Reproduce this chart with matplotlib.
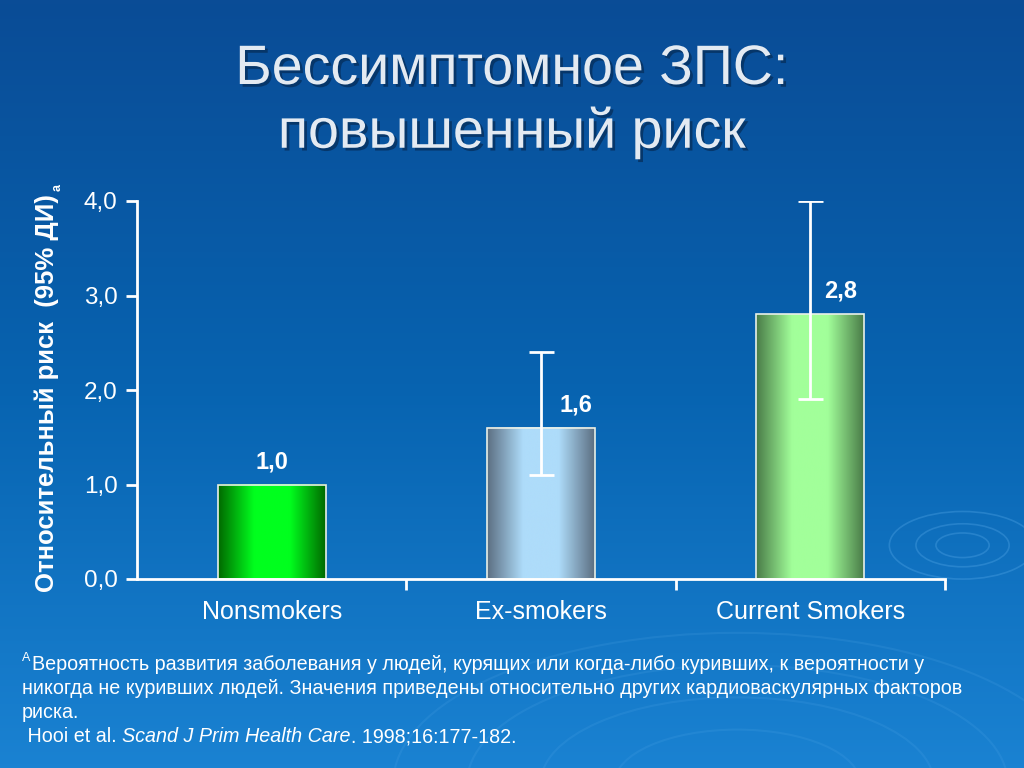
import numpy as np
import matplotlib
matplotlib.use("Agg")
import matplotlib.pyplot as plt
from matplotlib.colors import LinearSegmentedColormap
from matplotlib.patches import Rectangle, Ellipse
import matplotlib.patheffects as pe

categories = ["Nonsmokers", "Ex-smokers", "Current Smokers"]
values = [1.0, 1.6, 2.8]
ci_low = [None, 1.1, 1.9]
ci_high = [None, 2.4, 4.0]
value_labels = ["1,0", "1,6", "2,8"]
yticks = [0.0, 1.0, 2.0, 3.0, 4.0]
ytick_labels = ["0,0", "1,0", "2,0", "3,0", "4,0"]
title_lines = ["Бессимптомное ЗПС:", "повышенный риск"]
ylabel = "Относительный риск  (95% ДИ)"
footnote = ["Вероятность развития заболевания у людей, курящих или когда-либо куривших, к вероятности у",
            "никогда не куривших людей. Значения приведены относительно других кардиоваскулярных факторов",
            "риска."]
citation = [(" Hooi et al. ", "normal"), ("Scand J Prim Health Care", "italic"),
            (". 1998;16:177-182.", "normal")]

bar_edge_colors = [("#006a00", "#00ff1e"), ("#5c6f82", "#aedcfa"), ("#4a7c48", "#a2ff9a")]
label_dx = [0, 35, 30]

FONT = ["Liberation Sans", "DejaVu Sans"]
plt.rcParams["font.family"] = FONT

fig = plt.figure(figsize=(10.24, 7.68), dpi=100)

# background gradient
bg = fig.add_axes([0, 0, 1, 1], zorder=0)
grad = np.linspace(0, 1, 256).reshape(-1, 1)
bgcmap = LinearSegmentedColormap.from_list("bg", ["#0a4c96", "#0763b0", "#1a82d2"])
bg.imshow(grad, aspect="auto", cmap=bgcmap, extent=(0, 1, 0, 1), origin="upper")
bg.set_xlim(0, 1); bg.set_ylim(0, 1)
bg.axis("off")
# faint ripples
for r in [0.02, 0.035, 0.055]:
    bg.add_patch(Ellipse((0.94, 0.29), 2 * r * 1.3, 2 * r * 0.8, fill=False,
                         ec="#5fb0ee", lw=1.2, alpha=0.3))
for r in [0.10, 0.16, 0.22, 0.28]:
    bg.add_patch(Ellipse((0.72, -0.02), 2 * r * 1.2, 2 * r * 0.7, fill=False,
                         ec="#5fb0ee", lw=1.5, alpha=0.15))

# title
shadow = [pe.withSimplePatchShadow(offset=(2, -2), shadow_rgbFace="#06305e", alpha=0.8)]
fig.text(0.5, 1 - 70 / 768, title_lines[0], ha="center", va="center", fontsize=40,
         color="#e3eaf2", path_effects=shadow)
fig.text(0.5, 1 - 133 / 768, title_lines[1], ha="center", va="center", fontsize=40,
         color="#e3eaf2", path_effects=shadow)

ax = fig.add_axes([137 / 1024, 1 - 579 / 768, 808 / 1024, 378 / 768], zorder=2)
ax.patch.set_visible(False)
x = np.arange(len(categories))
width = 0.4

for i, v in enumerate(values):
    dark, bright = bar_edge_colors[i]
    cmap = LinearSegmentedColormap.from_list("b%d" % i, [dark, bright, bright, dark])
    g = np.linspace(0, 1, 128).reshape(1, -1)
    ax.imshow(g, aspect="auto", cmap=cmap, extent=(x[i] - width / 2, x[i] + width / 2, 0, v),
              zorder=2, interpolation="bicubic")
    ax.add_patch(Rectangle((x[i] - width / 2, 0), width, v, fill=False, ec="#e8f0e8",
                           lw=1.2, zorder=3))
    if ci_low[i] is not None:
        ax.errorbar(x[i], v, yerr=[[v - ci_low[i]], [ci_high[i] - v]], fmt="none",
                    ecolor="white", elinewidth=2, capsize=9, capthick=2, zorder=4)
    ax.annotate(value_labels[i], (x[i], v), xytext=(label_dx[i], 23), textcoords="offset pixels",
                ha="center", va="center", fontsize=17, fontweight="bold", color="white", zorder=5)

ax.set_aspect("auto")
ax.set_xlim(-0.5, len(categories) - 0.5)
ax.set_ylim(0, 4)

for s in ["top", "right"]:
    ax.spines[s].set_visible(False)
for s in ["left", "bottom"]:
    ax.spines[s].set_color("white")
    ax.spines[s].set_linewidth(2)
    ax.spines[s].set_zorder(6)

ax.set_yticks(yticks)
ax.set_yticklabels(ytick_labels, fontsize=17.5, color="white")
ax.tick_params(axis="y", colors="white", length=8, width=2, pad=6, labelcolor="white")
ax.set_xticks(x)
ax.set_xticklabels(categories, fontsize=18, color="white")
ax.tick_params(axis="x", length=0, pad=15, labelcolor="white")
ax.set_xticks(np.arange(len(categories)) + 0.5, minor=True)
ax.tick_params(axis="x", which="minor", length=8, width=2, colors="white")

yl = fig.text(47 / 1024, 1 - 393 / 768, ylabel, rotation=90, ha="center", va="center",
              fontsize=18.5, fontweight="bold", color="white")

renderer = fig.canvas.get_renderer()
bb = yl.get_window_extent(renderer)
fig.text((bb.x1 - 2) / 1024, (bb.y1 + 7) / 768, "a", rotation=90, ha="center", va="center",
         fontsize=9, fontweight="bold", color="white")

# footnote
fs = 14.2
fy = [1 - 664 / 768, 1 - 689 / 768, 1 - 713 / 768]
fig.text(22 / 1024, fy[0] + 0.008, "A", fontsize=9, color="white", va="center", ha="left")
for i, line in enumerate(footnote):
    fig.text((32 if i == 0 else 22) / 1024, fy[i], line, fontsize=fs, color="white",
             va="center", ha="left")
cx = 22
for txt, st in citation:
    t = fig.text(cx / 1024, 1 - 737 / 768, txt, fontsize=fs, color="white", va="center",
                 ha="left", style=st)
    cx = t.get_window_extent(renderer).x1

fig.savefig("out.png", dpi=100)
